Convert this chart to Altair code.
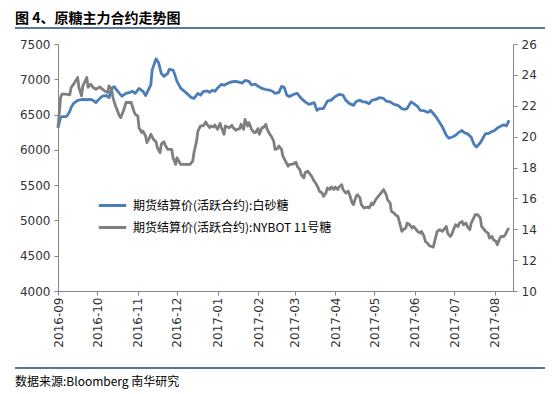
import altair as alt
import pandas as pd

# ---------------- data ----------------
series_names = ["期货结算价(活跃合约):白砂糖", "期货结算价(活跃合约):NYBOT 11号糖"]
series_colors = ["#4A7EBB", "#7F7F7F"]

left_ticks = [4000, 4500, 5000, 5500, 6000, 6500, 7000, 7500]
right_ticks = [10, 12, 14, 16, 18, 20, 22, 24, 26]
month_ticks = ["2016-09", "2016-10", "2016-11", "2016-12", "2017-01", "2017-02",
               "2017-03", "2017-04", "2017-05", "2017-06", "2017-07", "2017-08"]

blue_dates = [
    "2016-09-01", "2016-09-03", "2016-09-04", "2016-09-07", "2016-09-08", "2016-09-10", "2016-09-11", "2016-09-13",
    "2016-09-16", "2016-09-17", "2016-09-20", "2016-09-23", "2016-09-26", "2016-09-28", "2016-09-30",
    "2016-10-03", "2016-10-05", "2016-10-08", "2016-10-10", "2016-10-12", "2016-10-14", "2016-10-16", "2016-10-18",
    "2016-10-20", "2016-10-23", "2016-10-26", "2016-10-28", "2016-10-30",
    "2016-11-02", "2016-11-05", "2016-11-07", "2016-11-09", "2016-11-11", "2016-11-12", "2016-11-15", "2016-11-17",
    "2016-11-19", "2016-11-21", "2016-11-24", "2016-11-25", "2016-11-28", "2016-11-29",
    "2016-12-01", "2016-12-04", "2016-12-07", "2016-12-10", "2016-12-12", "2016-12-14", "2016-12-17", "2016-12-19",
    "2016-12-21", "2016-12-24", "2016-12-26", "2016-12-28", "2016-12-30",
    "2017-01-02", "2017-01-04", "2017-01-06", "2017-01-09", "2017-01-12", "2017-01-15", "2017-01-18", "2017-01-20",
    "2017-01-22", "2017-01-25", "2017-01-27", "2017-01-30",
    "2017-02-01", "2017-02-04", "2017-02-07", "2017-02-10", "2017-02-12", "2017-02-14", "2017-02-17", "2017-02-19",
    "2017-02-21", "2017-02-23", "2017-02-25", "2017-02-28",
    "2017-03-03", "2017-03-06", "2017-03-09", "2017-03-12", "2017-03-16", "2017-03-18", "2017-03-20", "2017-03-23",
    "2017-03-26", "2017-03-29",
    "2017-04-01", "2017-04-04", "2017-04-07", "2017-04-09", "2017-04-12", "2017-04-15", "2017-04-17", "2017-04-20",
    "2017-04-22", "2017-04-24", "2017-04-27", "2017-04-29",
    "2017-05-02", "2017-05-05", "2017-05-08", "2017-05-10", "2017-05-13", "2017-05-16", "2017-05-19", "2017-05-22",
    "2017-05-24", "2017-05-26", "2017-05-29", "2017-05-31",
    "2017-06-03", "2017-06-05", "2017-06-08", "2017-06-11", "2017-06-13", "2017-06-15", "2017-06-18", "2017-06-20",
    "2017-06-22", "2017-06-25", "2017-06-27", "2017-06-30",
    "2017-07-02", "2017-07-04", "2017-07-07", "2017-07-09", "2017-07-11", "2017-07-14", "2017-07-16", "2017-07-18",
    "2017-07-21", "2017-07-23", "2017-07-25", "2017-07-27", "2017-07-30",
    "2017-08-01", "2017-08-03", "2017-08-06", "2017-08-08", "2017-08-10", "2017-08-12",
]
blue_values = [
    6310, 6460, 6470, 6470, 6485, 6545, 6600, 6660, 6700, 6705, 6715, 6710, 6715, 6700, 6670,
    6730, 6760, 6770, 6740, 6870, 6895, 6845, 6800, 6760, 6800, 6815, 6830, 6800,
    6870, 6830, 6770, 6845, 6920, 7130, 7290, 7230, 7085, 7040, 7085, 7140, 7130, 7085,
    6970, 6870, 6825, 6775, 6740, 6730, 6800, 6775, 6825, 6835, 6815, 6845, 6830,
    6895, 6930, 6915, 6945, 6965, 6970, 6955, 6945, 6985, 6970, 6920, 6930,
    6900, 6870, 6855, 6845, 6830, 6800, 6815, 6900, 6885, 6775, 6755, 6785,
    6800, 6730, 6680, 6645, 6670, 6560, 6585, 6585, 6690, 6705,
    6755, 6785, 6775, 6705, 6655, 6630, 6685, 6705, 6680, 6680, 6655, 6700,
    6715, 6740, 6730, 6690, 6680, 6645, 6630, 6585, 6575, 6585, 6680, 6655,
    6615, 6560, 6555, 6530, 6560, 6515, 6445, 6385, 6325, 6205, 6165, 6185,
    6205, 6240, 6275, 6240, 6230, 6180, 6085, 6040, 6100, 6165, 6230, 6230, 6260,
    6275, 6310, 6340, 6355, 6340, 6420,
]

gray_dates = [
    "2016-09-01", "2016-09-03", "2016-09-04", "2016-09-07", "2016-09-10", "2016-09-11", "2016-09-13", "2016-09-16",
    "2016-09-17", "2016-09-19", "2016-09-20", "2016-09-23", "2016-09-24", "2016-09-26", "2016-09-28", "2016-09-30",
    "2016-10-03", "2016-10-05", "2016-10-07", "2016-10-09", "2016-10-10", "2016-10-12", "2016-10-13", "2016-10-15",
    "2016-10-16", "2016-10-18", "2016-10-19", "2016-10-21", "2016-10-23", "2016-10-26", "2016-10-27", "2016-10-29",
    "2016-10-30",
    "2016-11-01", "2016-11-02", "2016-11-04", "2016-11-05", "2016-11-07", "2016-11-08", "2016-11-10", "2016-11-11",
    "2016-11-13", "2016-11-15", "2016-11-16", "2016-11-18", "2016-11-19", "2016-11-21", "2016-11-22", "2016-11-24",
    "2016-11-25", "2016-11-27", "2016-11-28", "2016-11-30",
    "2016-12-01", "2016-12-03", "2016-12-04", "2016-12-07", "2016-12-09", "2016-12-11", "2016-12-13", "2016-12-14",
    "2016-12-16", "2016-12-17", "2016-12-19", "2016-12-21", "2016-12-23", "2016-12-24", "2016-12-26", "2016-12-27",
    "2016-12-29", "2016-12-30",
    "2017-01-01", "2017-01-03", "2017-01-04", "2017-01-06", "2017-01-07", "2017-01-09", "2017-01-10", "2017-01-12",
    "2017-01-13", "2017-01-15", "2017-01-16", "2017-01-18", "2017-01-19", "2017-01-21", "2017-01-22", "2017-01-24",
    "2017-01-25", "2017-01-27", "2017-01-29", "2017-01-30",
    "2017-02-01", "2017-02-02", "2017-02-04", "2017-02-05", "2017-02-07", "2017-02-08", "2017-02-10", "2017-02-11",
    "2017-02-13", "2017-02-14", "2017-02-16", "2017-02-17", "2017-02-19", "2017-02-20", "2017-02-22", "2017-02-24",
    "2017-02-25", "2017-02-27",
    "2017-03-02", "2017-03-03", "2017-03-05", "2017-03-06", "2017-03-08", "2017-03-09", "2017-03-11", "2017-03-12",
    "2017-03-14", "2017-03-16", "2017-03-17", "2017-03-19", "2017-03-20", "2017-03-22", "2017-03-23", "2017-03-25",
    "2017-03-26", "2017-03-28", "2017-03-29", "2017-03-31",
    "2017-04-01", "2017-04-03", "2017-04-04", "2017-04-06", "2017-04-07", "2017-04-09", "2017-04-11", "2017-04-12",
    "2017-04-14", "2017-04-15", "2017-04-17", "2017-04-18", "2017-04-20", "2017-04-21", "2017-04-23", "2017-04-24",
    "2017-04-26", "2017-04-27", "2017-04-29", "2017-04-30",
    "2017-05-02", "2017-05-03", "2017-05-05", "2017-05-07", "2017-05-08", "2017-05-10", "2017-05-11", "2017-05-13",
    "2017-05-14", "2017-05-16", "2017-05-17", "2017-05-19", "2017-05-20", "2017-05-22", "2017-05-23", "2017-05-25",
    "2017-05-26", "2017-05-28", "2017-05-30", "2017-05-31",
    "2017-06-02", "2017-06-03", "2017-06-05", "2017-06-06", "2017-06-08", "2017-06-09", "2017-06-11", "2017-06-12",
    "2017-06-14", "2017-06-15", "2017-06-17", "2017-06-18", "2017-06-20", "2017-06-22", "2017-06-23", "2017-06-25",
    "2017-06-26", "2017-06-28", "2017-06-29",
    "2017-07-01", "2017-07-02", "2017-07-04", "2017-07-05", "2017-07-07", "2017-07-08", "2017-07-10", "2017-07-11",
    "2017-07-13", "2017-07-14", "2017-07-16", "2017-07-17", "2017-07-19", "2017-07-21", "2017-07-22", "2017-07-24",
    "2017-07-25", "2017-07-27", "2017-07-28", "2017-07-30", "2017-07-31",
    "2017-08-02", "2017-08-03", "2017-08-05", "2017-08-06", "2017-08-08", "2017-08-09", "2017-08-11", "2017-08-12",
]
gray_values = [
    20.60, 22.53, 22.75, 22.75, 22.70, 23.18, 23.40, 23.83, 23.18, 22.64, 23.29, 23.83, 23.20, 23.40, 23.18, 23.07,
    23.22, 23.07, 22.94, 22.86, 23.29, 23.07, 22.53, 21.99, 21.77, 21.34, 21.23, 21.66, 22.21, 22.21, 22.21, 21.66,
    21.45,
    21.34, 20.58, 20.26, 20.36, 20.04, 19.61, 19.93, 20.15, 19.82, 19.67, 19.28, 18.96, 19.50, 19.67, 19.45, 19.17,
    19.17, 19.17, 18.63, 18.20,
    18.63, 18.31, 18.20, 18.20, 18.20, 18.20, 18.41, 18.96, 19.71, 20.36, 20.69, 20.69, 20.95, 20.80, 20.58, 20.69,
    20.62, 20.75,
    20.47, 20.86, 20.58, 20.15, 20.69, 20.60, 20.58, 20.73, 20.58, 20.41, 20.47, 20.52, 20.80, 20.47, 21.12, 20.69,
    20.91, 20.47, 20.26, 20.26,
    20.52, 20.15, 20.58, 20.58, 20.80, 20.47, 20.15, 20.04, 19.71, 19.17, 19.24, 19.39, 19.17, 18.74, 18.41, 18.08,
    18.20, 18.20,
    18.34, 18.08, 17.87, 17.54, 17.33, 17.66, 17.76, 17.66, 17.43, 17.11, 17.00, 16.68, 16.46, 16.35, 16.13, 16.35,
    16.68, 16.57, 16.74, 16.57,
    16.74, 16.57, 16.74, 16.89, 16.57, 16.35, 16.46, 16.24, 15.70, 15.59, 16.13, 16.24, 16.03, 15.59, 15.38, 15.40,
    15.44, 15.38, 15.70, 15.59,
    15.92, 16.03, 16.24, 16.46, 16.57, 16.24, 15.92, 15.70, 15.16, 15.05, 14.94, 14.83, 14.51, 13.86, 13.97, 14.08,
    14.40, 14.29, 14.08, 14.18,
    13.97, 13.86, 13.75, 13.86, 13.53, 13.21, 13.06, 12.93, 12.88, 12.84, 13.53, 13.86, 13.97, 13.86, 13.97, 14.18,
    13.75, 13.53, 13.64,
    14.08, 14.29, 14.18, 14.40, 14.51, 14.29, 14.40, 14.18, 13.97, 14.40, 14.73, 14.94, 14.94, 14.73, 14.18, 13.97,
    13.86, 13.75, 13.43, 13.53, 13.32,
    13.21, 12.99, 13.43, 13.53, 13.53, 13.64, 13.97, 14.08,
]

title_text = "图 4、原糖主力合约走势图"
source_text = "数据来源:Bloomberg 南华研究"

assert len(blue_dates) == len(blue_values)
assert len(gray_dates) == len(gray_values)

blue_df = pd.DataFrame({"date": blue_dates, "value": blue_values, "series": series_names[0]})
gray_df = pd.DataFrame({"date": gray_dates, "value": gray_values, "series": series_names[1]})

# ---------------- chart ----------------
AXIS_COLOR = "#868686"
LABEL_COLOR = "#333333"
NUM_FONT = "DejaVu Sans"
CJK_FONT = "Noto Sans CJK SC"


def dt(s, day=1):
    y, m = s.split("-")[:2]
    return alt.DateTime(year=int(y), month=int(m), date=day, utc=True)


x_enc = alt.X(
    "date:T",
    scale=alt.Scale(type="utc", domain=[dt("2016-09"), dt("2017-08", 15)]),
    axis=alt.Axis(
        values=[dt(m) for m in month_ticks],
        format="%Y-%m",
        labelAngle=-90,
        tickSize=4,
        labelPadding=2,
        title=None,
    ),
)

color_enc = alt.Color(
    "series:N",
    scale=alt.Scale(domain=series_names, range=series_colors),
    legend=alt.Legend(
        title=None,
        orient="none",
        legendX=39,
        legendY=146,
        symbolType="stroke",
        symbolSize=750,
        symbolStrokeWidth=3,
        labelFont=CJK_FONT,
        labelFontSize=12,
        labelColor="#000000",
        labelOffset=5,
        labelLimit=400,
        rowPadding=0,
        padding=0,
    ),
)

blue_line = alt.Chart(blue_df).mark_line(strokeWidth=2.8, strokeJoin="round").encode(
    x=x_enc,
    y=alt.Y(
        "value:Q",
        scale=alt.Scale(domain=[4000, 7500], nice=False, zero=False),
        axis=alt.Axis(orient="left", values=left_ticks, tickSize=4, labelPadding=4, title=None, format="d"),
    ),
    color=color_enc,
)

gray_line = alt.Chart(gray_df).mark_line(strokeWidth=2.8, strokeJoin="round").encode(
    x=x_enc,
    y=alt.Y(
        "value:Q",
        scale=alt.Scale(domain=[10, 26], nice=False, zero=False),
        axis=alt.Axis(orient="right", values=right_ticks, tickSize=4, labelPadding=4, title=None, format="d"),
    ),
    color=color_enc,
)

one = pd.DataFrame({"t": [0]})

title_mark = alt.Chart(one).mark_text(
    text=title_text, font=CJK_FONT, fontSize=14, fontWeight="bold", align="left", baseline="middle", color="#000000"
).encode(x=alt.value(-43), y=alt.value(-25))

title_rule = alt.Chart(one).mark_rule(color="#1F4E79", strokeWidth=1.5).encode(
    x=alt.value(-43), x2=alt.value(487), y=alt.value(-16)
)

bottom_rule = alt.Chart(one).mark_rule(color="#1F4E6B", strokeWidth=1.5).encode(
    x=alt.value(-43), x2=alt.value(487), y=alt.value(324)
)

source_mark = alt.Chart(one).mark_text(
    text=source_text, font=CJK_FONT, fontSize=12, align="left", baseline="middle", color="#000000"
).encode(x=alt.value(-43), y=alt.value(338))

chart = (
    alt.layer(blue_line, gray_line, title_mark, title_rule, bottom_rule, source_mark)
    .resolve_scale(y="independent")
    .properties(
        width=455,
        height=247,
        autosize=alt.AutoSizeParams(type="none"),
        padding={"left": 50, "top": 36, "right": 39, "bottom": 102},
        background="#ffffff",
    )
    .configure_view(stroke=None)
    .configure_axis(
        domainColor=AXIS_COLOR,
        tickColor=AXIS_COLOR,
        labelColor=LABEL_COLOR,
        labelFont=NUM_FONT,
        labelFontSize=12,
        grid=False,
    )
)

chart.save("out.html", embed_options={"renderer": "svg", "actions": False})
